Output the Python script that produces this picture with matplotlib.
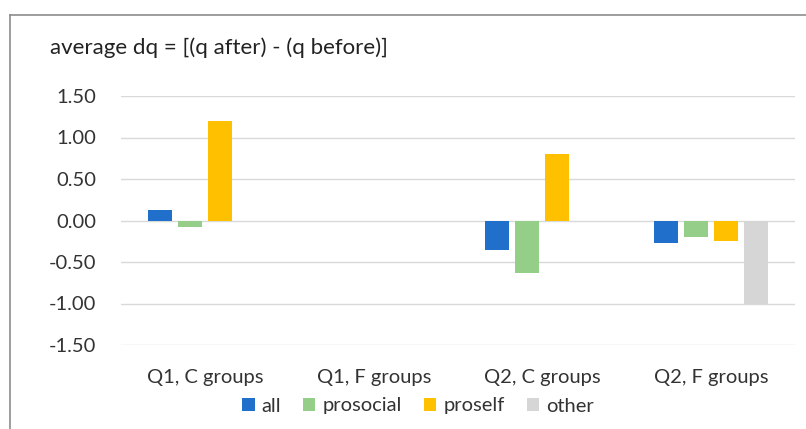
import numpy as np
import matplotlib.pyplot as plt
from matplotlib.lines import Line2D

plt.rcParams['font.family'] = ['Lato', 'DejaVu Sans']

# average change in q per group type
categories = ['Q1, C groups', 'Q1, F groups', 'Q2, C groups', 'Q2, F groups']
series = ['all', 'prosocial', 'proself', 'other']
all_vals = [0.13, np.nan, -0.35, -0.27]
prosocial_vals = [-0.08, np.nan, -0.63, -0.20]
proself_vals = [1.20, np.nan, 0.80, -0.25]
other_vals = [np.nan, np.nan, np.nan, -1.00]

colors = ['#1F6FCB', '#95CE89', '#FFC000', '#D6D6D6']
values = [all_vals, prosocial_vals, proself_vals, other_vals]

FS = 14.5

fig = plt.figure(figsize=(8.06, 4.29), dpi=100)
ax = fig.add_axes([121 / 806, 84 / 429, 674 / 806, 249 / 429])

x = np.arange(len(categories))
step = 0.178
width = 0.145
for i, (name, vals, col) in enumerate(zip(series, values, colors)):
    ax.bar(x + (i - 1.5) * step, vals, width, color=col, label=name, zorder=3)

ax.set_xlim(-0.5, len(categories) - 0.5)
ax.set_ylim(-1.5, 1.5)
ax.set_yticks(np.arange(-1.5, 1.51, 0.5))
ax.set_yticklabels([f'{v:.2f}' for v in np.arange(-1.5, 1.51, 0.5)])
ax.set_xticks(x)
ax.set_xticklabels(categories)
ax.grid(axis='y', color='#D9D9D9', linewidth=1, zorder=0)
for s in ax.spines.values():
    s.set_visible(False)
ax.tick_params(length=0, labelsize=FS, colors='#333333')
ax.tick_params(axis='y', pad=18)
ax.tick_params(axis='x', pad=17)

fig.text(50 / 806, 1 - 48 / 429, 'average dq = [(q after) - (q before)]',
         fontsize=16, color='#222222', va='center', ha='left')

fig.legend(loc='center', bbox_to_anchor=(418 / 806, 1 - 406 / 429), ncol=4,
           frameon=False, fontsize=FS, handlelength=0.6, handleheight=0.6,
           handletextpad=0.35, columnspacing=1.1, labelcolor='#333333')

# outer frame, top and left edges
fig.add_artist(Line2D([10 / 806, 10 / 806], [0, 1 - 15 / 429], color='#8C8C8C', lw=1.2))
fig.add_artist(Line2D([10 / 806, 1], [1 - 15 / 429, 1 - 15 / 429], color='#8C8C8C', lw=1.2))

fig.savefig('out.png', dpi=100)
